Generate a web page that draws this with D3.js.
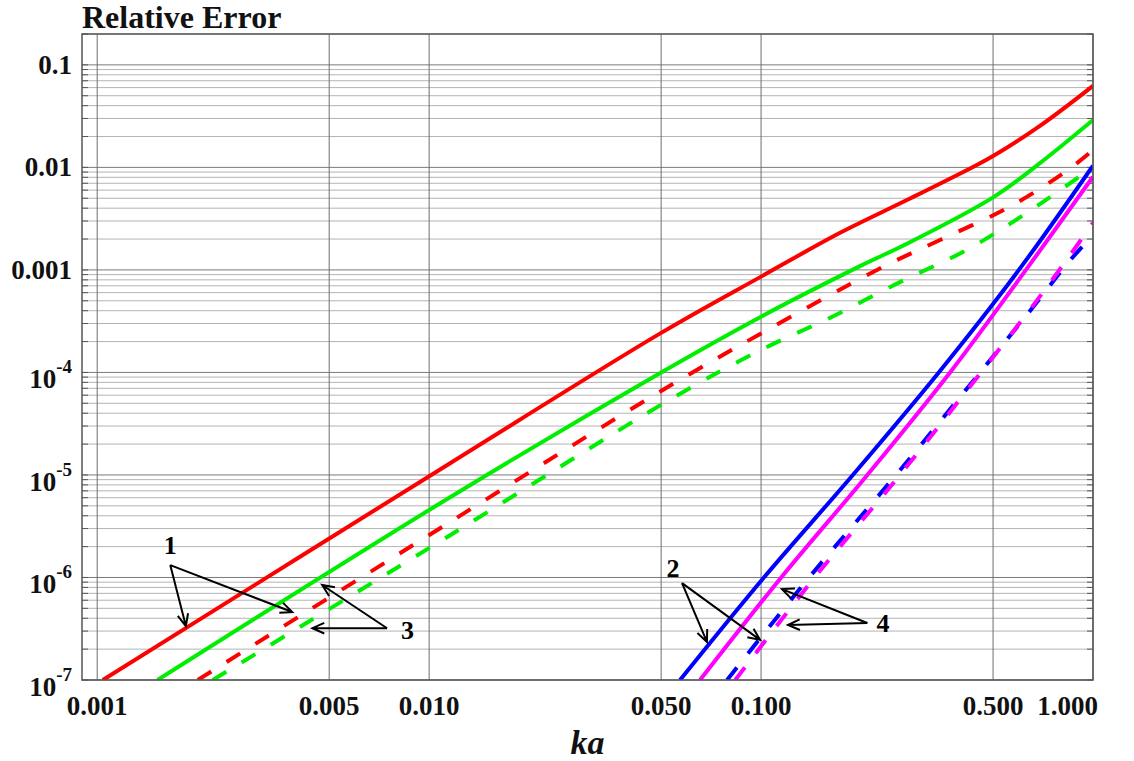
<!DOCTYPE html>
<html>
<head>
<meta charset="utf-8">
<script src="https://cdn.jsdelivr.net/npm/d3@7/dist/d3.min.js"></script>
<style>
  body { margin: 0; background: #fff; }
  svg { display: block; font-family: "Liberation Serif", "Times New Roman", serif; }
  .link { fill: none; stroke-linecap: butt; }
</style>
</head>
<body>
<svg id="chart" width="1134" height="761"></svg>
<script>
// ka values / relative error
var redSolid = [[0.00104,1e-7],[0.0116,1.31e-5],[0.05,2.43e-4],[0.1,8.6e-4],[0.173,2.3e-3],[0.275,4.8e-3],[0.435,0.0101],[0.5,0.0129],[0.692,0.0254],[1,0.0624]];
var greenSolid = [[0.00152,1e-7],[0.0116,6.1e-6],[0.05,1.0e-4],[0.1,3.5e-4],[0.2,1.1e-3],[0.275,1.8e-3],[0.5,5.1e-3],[0.692,0.011],[1,0.029]];
var redDashed = [[0.00201,1e-7],[0.0116,3.5e-6],[0.05,6.6e-5],[0.1,2.4e-4],[0.2235,1e-3],[0.346,1.96e-3],[0.551,4.0e-3],[0.824,9.0e-3],[1,0.0148]];
var greenDashed = [[0.00223,1e-7],[0.0116,2.6e-6],[0.053,5.4e-5],[0.1,1.66e-4],[0.161,3.4e-4],[0.262,7.6e-4],[0.417,1.57e-3],[0.632,3.6e-3],[1,0.0101]];
var blueSolid = [[0.057,1e-7],[0.102,1e-6],[0.189,1e-5],[0.343,1e-4],[0.598,1e-3],[1,0.0104]];
var magentaSolid = [[0.0655,1e-7],[0.115,1e-6],[0.209,1e-5],[0.371,1e-4],[0.628,1e-3],[1,8.1e-3]];
var blueDashed = [[0.079,1e-7],[0.1396,1e-6],[0.255,1e-5],[0.457,1e-4],[0.668,4.56e-4],[0.84,1.17e-3],[1,2.2e-3]];
var magentaDashed = [[0.0836,1e-7],[0.145,1e-6],[0.262,1e-5],[0.46,1e-4],[0.67,4.8e-4],[0.84,1.3e-3],[1,2.88e-3]];

var xTicks = [0.001, 0.005, 0.01, 0.05, 0.1, 0.5, 1];
var xTickLabels = ["0.001", "0.005", "0.010", "0.050", "0.100", "0.500", "1.000"];
var yTicks = [1e-7, 1e-6, 1e-5, 1e-4, 1e-3, 1e-2, 1e-1];
var yTickLabels = [["10","-7"],["10","-6"],["10","-5"],["10","-4"],["0.001",""],["0.01",""],["0.1",""]];

// number labels and the two arrows that leave each one
var noteLabels = [["1", 0.00166, 2.07e-6], ["3", 0.0086, 3.07e-7], ["2", 0.0543, 1.24e-6], ["4", 0.233, 3.6e-7]];
var noteArrows = [
  [[0.00166,1.32e-6],[0.00185,3.36e-7]],
  [[0.00166,1.32e-6],[0.00387,4.6e-7]],
  [[0.00747,3.2e-7],[0.00476,8.45e-7]],
  [[0.00747,3.2e-7],[0.00445,3.2e-7]],
  [[0.0578,8.8e-7],[0.0687,2.35e-7]],
  [[0.0578,8.8e-7],[0.0993,2.46e-7]],
  [[0.209,3.6e-7],[0.1156,7.7e-7]],
  [[0.209,3.6e-7],[0.1205,3.44e-7]]
];

var svg = d3.select("#chart");
var plotL = 82, plotR = 1093, plotT = 34, plotB = 680;

var x = d3.scaleLog()
    .domain([0.0009, 1])
    .range([plotL, plotR]);
var y = d3.scaleLog()
    .domain([1e-7, 0.2])
    .range([plotB, plotT]);

svg.append("rect")
    .attr("width", 1134)
    .attr("height", 761)
    .attr("fill", "#fff");

// horizontal grid, decades and minors
var yMinor = [];
yTicks.forEach(function(d) {
    for (var k = 2; k <= 9; k++) {
        var v = d * k;
        if (v <= 0.2) yMinor.push(v);
    }
});

svg.append("g")
    .selectAll("line")
    .data(yMinor)
    .enter()
    .append("line")
    .attr("x1", plotL).attr("x2", plotR)
    .attr("y1", function(d) { return y(d); })
    .attr("y2", function(d) { return y(d); })
    .attr("stroke", "#b4b4b4")
    .attr("stroke-width", 1);

svg.append("g")
    .selectAll("line")
    .data(yTicks)
    .enter()
    .append("line")
    .attr("x1", plotL).attr("x2", plotR)
    .attr("y1", function(d) { return y(d); })
    .attr("y2", function(d) { return y(d); })
    .attr("stroke", "#7a7a7a")
    .attr("stroke-width", 1);

svg.append("g")
    .selectAll("line")
    .data(xTicks)
    .enter()
    .append("line")
    .attr("x1", function(d) { return x(d); })
    .attr("x2", function(d) { return x(d); })
    .attr("y1", plotT).attr("y2", plotB)
    .attr("stroke", "#6e6e6e")
    .attr("stroke-width", 1);

// inward ticks on both sides
var tickG = svg.append("g").attr("stroke", "#555").attr("stroke-width", 1);
yMinor.concat(yTicks).forEach(function(d) {
    tickG.append("line").attr("x1", plotL).attr("x2", plotL + 6).attr("y1", y(d)).attr("y2", y(d));
    tickG.append("line").attr("x1", plotR - 6).attr("x2", plotR).attr("y1", y(d)).attr("y2", y(d));
});

// curves
svg.append("clipPath")
    .attr("id", "plotClip")
    .append("rect")
    .attr("x", plotL).attr("y", plotT)
    .attr("width", plotR - plotL).attr("height", plotB - plotT);

var line = d3.line()
    .x(function(d) { return x(d[0]); })
    .y(function(d) { return y(d[1]); })
    .curve(d3.curveCatmullRom.alpha(0.5));

var series = [
    { data: redDashed, color: "#ff0000", dash: true },
    { data: greenDashed, color: "#00ee00", dash: true },
    { data: blueDashed, color: "#0000ff", dash: true },
    { data: magentaDashed, color: "#ff00ff", dash: true },
    { data: redSolid, color: "#ff0000", dash: false },
    { data: greenSolid, color: "#00ee00", dash: false },
    { data: blueSolid, color: "#0000ff", dash: false },
    { data: magentaSolid, color: "#ff00ff", dash: false }
];

svg.append("g")
    .attr("clip-path", "url(#plotClip)")
    .selectAll("path")
    .data(series)
    .enter()
    .append("path")
    .attr("class", "link")
    .attr("d", function(d) { return line(d.data); })
    .attr("stroke", function(d) { return d.color; })
    .attr("stroke-width", 4)
    .attr("stroke-dasharray", function(d) { return d.dash ? "16,18" : null; });

// frame
svg.append("rect")
    .attr("x", plotL).attr("y", plotT)
    .attr("width", plotR - plotL).attr("height", plotB - plotT)
    .attr("fill", "none")
    .attr("stroke", "#555")
    .attr("stroke-width", 1.5);

// y labels
var yLab = svg.append("g")
    .attr("font-weight", "bold")
    .attr("fill", "#111")
    .attr("text-anchor", "end");

yTickLabels.forEach(function(l, i) {
    var t = yLab.append("text")
        .attr("x", 72)
        .attr("y", y(yTicks[i]) + (l[1] ? 16 : 9))
        .attr("font-size", 27);
    t.append("tspan").text(l[0]);
    if (l[1]) {
        t.append("tspan")
            .attr("dy", -15)
            .attr("font-size", 19)
            .text(l[1]);
    }
});

// x labels
svg.append("g")
    .selectAll("text")
    .data(xTicks)
    .enter()
    .append("text")
    .attr("x", function(d, i) { return i == xTicks.length - 1 ? x(d) + 5 : x(d); })
    .attr("y", 715)
    .attr("text-anchor", function(d, i) { return i == xTicks.length - 1 ? "end" : "middle"; })
    .attr("font-size", 27)
    .attr("font-weight", "bold")
    .attr("fill", "#111")
    .text(function(d, i) { return xTickLabels[i]; });

svg.append("text")
    .attr("x", (plotL + plotR) / 2)
    .attr("y", 754)
    .attr("text-anchor", "middle")
    .attr("font-size", 34)
    .attr("font-weight", "bold")
    .attr("font-style", "italic")
    .attr("fill", "#111")
    .text("ka");

svg.append("text")
    .attr("x", plotL)
    .attr("y", 28)
    .attr("font-size", 32)
    .attr("font-weight", "bold")
    .attr("fill", "#111")
    .text("Relative Error");

// annotations
var notes = svg.append("g");

noteArrows.forEach(function(a) {
    var x0 = x(a[0][0]), y0 = y(a[0][1]);
    var x1 = x(a[1][0]), y1 = y(a[1][1]);
    var ang = Math.atan2(y1 - y0, x1 - x0);
    var head = 13, spread = 0.42;
    notes.append("path")
        .attr("d", "M" + x0 + " " + y0 + " L" + x1 + " " + y1
            + " M" + (x1 - head * Math.cos(ang - spread)) + " " + (y1 - head * Math.sin(ang - spread))
            + " L" + x1 + " " + y1
            + " L" + (x1 - head * Math.cos(ang + spread)) + " " + (y1 - head * Math.sin(ang + spread)))
        .attr("fill", "none")
        .attr("stroke", "#000")
        .attr("stroke-width", 2);
});

notes.selectAll("text")
    .data(noteLabels)
    .enter()
    .append("text")
    .attr("x", function(d) { return x(d[1]); })
    .attr("y", function(d) { return y(d[2]) + 9; })
    .attr("text-anchor", "middle")
    .attr("font-size", 26)
    .attr("font-weight", "bold")
    .attr("fill", "#000")
    .text(function(d) { return d[0]; });
</script>
</body>
</html>
